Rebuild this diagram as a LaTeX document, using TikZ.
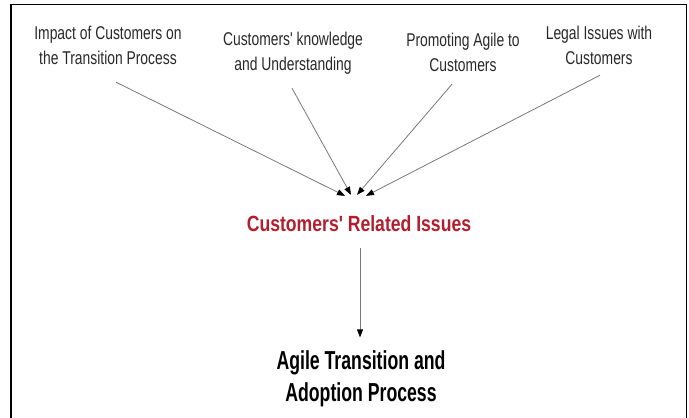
\documentclass[tikz,border=0pt]{standalone}
\usepackage{fontspec}
\usetikzlibrary{arrows.meta}
\newfontfamily\topfont[FakeStretch=0.75]{Liberation Sans}
\newfontfamily\redfont[FakeStretch=0.80]{Liberation Sans}
\newfontfamily\botfont[FakeStretch=0.68]{Liberation Sans}
\definecolor{issuered}{RGB}{178,30,45}
\definecolor{linegray}{RGB}{120,120,120}
\definecolor{textdark}{RGB}{40,40,40}
\begin{document}
\begin{tikzpicture}[x=1pt,y=1pt,
  toptext/.style={anchor=base,inner sep=0pt,text=textdark,font=\topfont\fontsize{18.5}{25}\selectfont},
  redtext/.style={anchor=base,inner sep=0pt,text=issuered,font=\redfont\bfseries\fontsize{22}{26}\selectfont},
  bottext/.style={anchor=base,inner sep=0pt,text=black,font=\botfont\bfseries\fontsize{26}{32}\selectfont},
  conn/.style={draw=linegray,line width=0.8pt,-{Triangle[length=8pt,width=6pt,color=black]}}]
\useasboundingbox (0,0) rectangle (689,418);
\draw[line width=1.6pt] (11,-2) -- (11,413.5) -- (686.5,413.5) -- (686.5,-2);
\node[toptext] (t1) at (108,378) {\begin{tabular}[t]{@{}c@{}}Impact of Customers on\\the Transition Process\end{tabular}};
\node[toptext] (t2) at (293,372) {\begin{tabular}[t]{@{}c@{}}Customers' knowledge\\and Understanding\end{tabular}};
\node[toptext] (t3) at (463,371) {\begin{tabular}[t]{@{}c@{}}Promoting Agile to\\Customers\end{tabular}};
\node[toptext] (t4) at (599,378) {\begin{tabular}[t]{@{}c@{}}Legal Issues with\\Customers\end{tabular}};
\node[redtext] (red) at (359,186) {Customers' Related Issues};
\node[bottext] (bot) at (361,48) {\begin{tabular}[t]{@{}c@{}}Agile Transition and\\Adoption Process\end{tabular}};
\draw[conn] ([xshift=8pt,yshift=-9.5pt]t1.south) -- ([xshift=-14pt,yshift=20pt]red.north);
\draw[conn] ([xshift=-1pt,yshift=-9.5pt]t2.south) -- ([xshift=-8pt,yshift=21pt]red.north);
\draw[conn] ([xshift=-11pt,yshift=-4.5pt]t3.south) -- ([xshift=-2pt,yshift=21pt]red.north);
\draw[conn] ([xshift=1pt,yshift=-2.5pt]t4.south) -- ([xshift=7pt,yshift=20pt]red.north);
\draw[conn,shorten <=16pt,shorten >=10pt] ([xshift=1pt]red.south) -- ([xshift=-1pt]bot.north);
\end{tikzpicture}
\end{document}
